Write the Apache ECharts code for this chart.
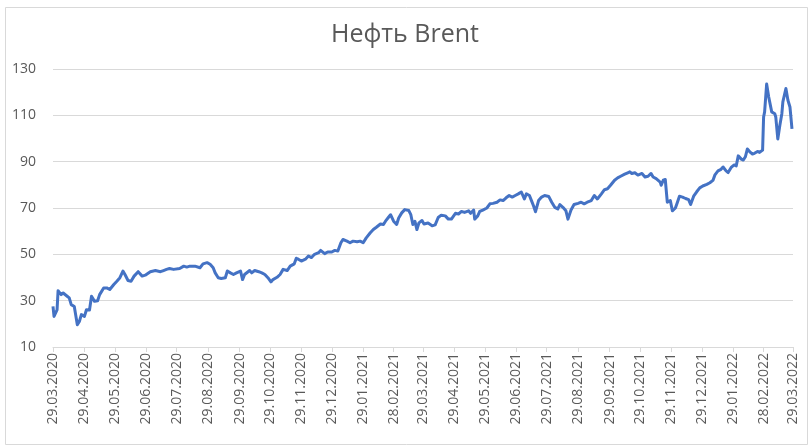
<!DOCTYPE html>
<html>
<head>
<meta charset="utf-8">
<script src="https://cdn.jsdelivr.net/npm/echarts@6/dist/echarts.min.js"></script>
<style>
html,body{margin:0;padding:0;background:#fff;}
#c{width:810px;height:448px;}
</style>
</head>
<body>
<div id="c"></div>
<script>
// Brent oil price, USD/bbl. Days counted from 29.03.2020.
const startDate = [2020, 3, 29];
const totalDays = 730;
const tickLabels = ["29.03.2020","29.04.2020","29.05.2020","29.06.2020","29.07.2020","29.08.2020","29.09.2020","29.10.2020","29.11.2020","29.12.2020","29.01.2021","28.02.2021","29.03.2021","29.04.2021","29.05.2021","29.06.2021","29.07.2021","29.08.2021","29.09.2021","29.10.2021","29.11.2021","29.12.2021","29.01.2022","28.02.2022","29.03.2022"];
const dayOffsets = [0,1,4,5,8,10,14,16,18,21,24,26,28,31,33,36,38,41,44,46,50,53,56,60,63,66,69,71,74,77,80,84,88,91,96,101,106,109,112,115,119,125,129,132,135,140,145,148,152,155,158,160,163,166,170,172,175,178,181,185,187,189,194,196,199,203,206,209,212,215,217,221,224,227,231,234,238,240,242,245,249,252,255,258,262,264,268,271,275,278,281,284,286,290,293,296,300,303,306,309,313,316,319,323,326,328,331,333,336,339,341,344,347,351,353,355,357,359,361,364,366,370,374,377,380,383,387,390,393,397,400,403,406,410,412,415,416,419,421,424,428,431,434,438,441,444,447,450,453,456,459,462,465,467,470,472,474,476,479,482,485,489,492,495,498,500,503,506,508,511,514,518,521,524,527,531,534,537,541,544,547,550,554,557,560,564,567,569,571,574,577,581,584,587,590,592,595,599,600,602,604,606,609,611,614,616,618,621,624,627,629,632,635,638,641,645,648,651,653,656,659,661,664,666,669,672,674,676,679,681,683,685,688,690,692,695,697,700,701,702,704,706,709,712,713,715,716,717,719,720,723,725,727,729];
const prices = [27.5,23.2,26,34.3,32.6,33.3,31.9,31.2,28.3,27.5,19.6,21,24,23.2,26.1,26,31.9,29.7,30,32.6,35.5,35.5,34.8,37,38.4,39.9,42.8,41.3,38.7,38.4,40.6,42.5,40.6,41,42.5,43,42.5,43,43.5,43.9,43.5,43.9,44.9,44.5,44.9,44.9,44.2,45.9,46.4,45.7,44.2,42,39.9,39.6,39.9,42.8,42,41.3,42,42.8,39.1,41.3,43,42,43,42.5,42,41.3,39.9,38.1,39.1,40.1,41.3,43.5,43,44.9,45.9,48.3,47.9,47.1,47.9,49.3,48.6,50,50.7,51.7,50.3,51,51,51.7,51.4,55,56.4,55.7,55,55.7,55.4,55.7,55,57.1,59.3,60.7,61.7,63.1,62.9,64.3,66,67.1,64.3,62.9,65.7,67.9,69.3,68.9,67.1,62.9,64.3,60.7,63.6,64.6,63.1,63.5,62.3,62.7,65.9,66.9,66.6,65.2,65.2,67.7,67.4,68.5,68.1,68.8,67.7,69.1,65.2,66.6,68.5,69.1,70,71.8,72,72.5,73.5,73.2,74.4,75.4,74.7,75.4,76.1,76.9,73.9,76.1,75.4,73.2,71,68.4,73.2,74.7,75.4,75,72.5,70.3,69.6,71.5,70.3,68.8,65.2,69.1,71.5,72,72.5,71.8,72.5,73.2,75.4,73.9,76.1,77.9,78.3,79.8,82,83,83.7,84.6,85.2,85.6,84.9,85.2,84.2,84.9,83.4,83.7,84.9,83.4,82.7,81.2,79.8,82,82.3,72.5,73.2,68.8,70,72.5,75.1,74.7,74.1,73.6,71.5,75.1,77,78.7,79.5,80.2,80.9,81.9,84.3,86,86.7,87.7,86,85.3,87.5,88.6,88.2,92.5,91.1,90.7,92.1,95.5,94,93.3,93.6,94.4,94,95,109.3,111.5,123.5,118,111.5,110.7,109.3,99.8,99.1,105.6,110.7,115.8,121.6,116.5,113.6,104.2];
const yTicks = {min: 10, max: 130, step: 20};

// build calendar categories
const pad = n => (n < 10 ? '0' : '') + n;
const categories = [];
const base = Date.UTC(startDate[0], startDate[1] - 1, startDate[2]);
for (let i = 0; i <= totalDays; i++) {
  const d = new Date(base + i * 86400000);
  categories.push(pad(d.getUTCDate()) + '.' + pad(d.getUTCMonth() + 1) + '.' + d.getUTCFullYear());
}
const tickSet = new Set(tickLabels);
const showTick = (idx, val) => tickSet.has(val !== undefined ? val : categories[idx]);
const seriesData = dayOffsets.map((d, i) => [categories[d], prices[i]]);

const chart = echarts.init(document.getElementById('c'), null, {renderer: 'canvas'});
chart.setOption({
  animation: false,
  backgroundColor: '#ffffff',
  graphic: [{
    type: 'rect', left: 3, top: 5, silent: true,
    shape: {width: 802, height: 437},
    style: {fill: 'none', stroke: '#d9d9d9', lineWidth: 1}
  }],
  title: {
    text: 'Нефть Brent', left: 'center', top: 17,
    textStyle: {fontFamily: 'Open Sans', fontSize: 25, fontWeight: 'normal', color: '#595959'}
  },
  grid: {left: 53, right: 17, top: 69, bottom: 101, containLabel: false},
  xAxis: {
    type: 'category', data: categories, boundaryGap: false,
    axisLine: {lineStyle: {color: '#d9d9d9', width: 1}},
    axisTick: {show: true, interval: showTick, length: 5, lineStyle: {color: '#d9d9d9'}},
    axisLabel: {interval: showTick, rotate: 90, margin: 6, fontFamily: 'Open Sans', fontSize: 14, color: '#595959'},
    splitLine: {show: false}
  },
  yAxis: {
    type: 'value', min: yTicks.min, max: yTicks.max, interval: yTicks.step,
    axisLine: {show: false}, axisTick: {show: false},
    axisLabel: {fontFamily: 'Open Sans', fontSize: 14, color: '#595959', margin: 17},
    splitLine: {lineStyle: {color: '#d9d9d9', width: 1}}
  },
  series: [{
    type: 'line', data: seriesData, showSymbol: false, symbol: 'none',
    lineStyle: {color: '#4472c4', width: 3, join: 'round'},
    connectNulls: true
  }]
});
</script>
</body>
</html>
